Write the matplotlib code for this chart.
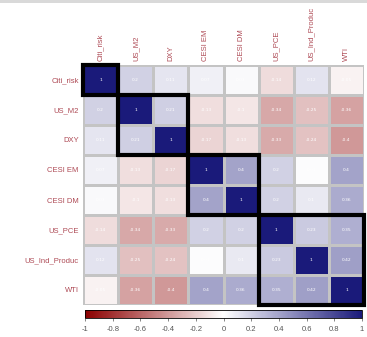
import numpy as np
import matplotlib
matplotlib.use("Agg")
import matplotlib.pyplot as plt
from matplotlib.colors import LinearSegmentedColormap, Normalize
from matplotlib.patches import Rectangle
import matplotlib.colorbar as mcolorbar

labels = ["Citi_risk", "US_M2", "DXY", "CESI EM", "CESI DM", "US_PCE", "US_Ind_Produc", "WTI"]
row_citi = [1, 0.2, 0.11, 0.07, 0.03, -0.14, 0.12, -0.05]
row_m2 = [0.2, 1, 0.21, -0.13, -0.1, -0.34, -0.25, -0.36]
row_dxy = [0.11, 0.21, 1, -0.17, -0.13, -0.33, -0.24, -0.4]
row_cem = [0.07, -0.13, -0.17, 1, 0.4, 0.2, 0.01, 0.4]
row_cdm = [0.03, -0.1, -0.13, 0.4, 1, 0.2, 0.1, 0.36]
row_pce = [-0.14, -0.34, -0.33, 0.2, 0.2, 1, 0.23, 0.35]
row_ind = [0.12, -0.25, -0.24, 0.01, 0.1, 0.23, 1, 0.42]
row_wti = [-0.05, -0.36, -0.4, 0.4, 0.36, 0.35, 0.42, 1]
clusters = [(0, 1), (1, 2), (3, 2), (5, 3)]  # (start, size)
cbar_ticks = [-1, -0.8, -0.6, -0.4, -0.2, 0, 0.2, 0.4, 0.6, 0.8, 1]

M = np.array([row_citi, row_m2, row_dxy, row_cem, row_cdm, row_pce, row_ind, row_wti])
n = len(labels)

cmap = LinearSegmentedColormap.from_list("rwb", ["#8B0000", "#FFFFFF", "#1A1A7A"])
norm = Normalize(-1, 1)
lab_color = "#AE4A55"

fig = plt.figure(figsize=(3.67, 3.37), dpi=100)
fig.patches.append(Rectangle((0, 1 - 3 / 337), 1, 3 / 337, transform=fig.transFigure,
                             facecolor="#D9D9D9", edgecolor="none", zorder=0))

ax = fig.add_axes([83 / 367, 1 - 305 / 337, 281 / 367, 240 / 337])
ax.pcolormesh(np.arange(n + 1), np.arange(n + 1), M, cmap=cmap, norm=norm,
              edgecolors="#C4C4C4", linewidth=1.0)
ax.set_xlim(0, n)
ax.set_ylim(n, 0)
for i in range(n):
    for j in range(n):
        v = M[i, j]
        s = "1" if v == 1 else ("%g" % v)
        ax.text(j + 0.5, i + 0.5, s, ha="center", va="center", color="white", fontsize=3.2)

for start, size in clusters:
    ax.add_patch(Rectangle((start, start), size, size, fill=False, edgecolor="black",
                           linewidth=3.0, zorder=5, clip_on=False))

ax.xaxis.tick_top()
ax.set_xticks(np.arange(n) + 0.5)
ax.set_xticklabels(labels, rotation=90, fontsize=5.5, color=lab_color, family="Liberation Sans")
ax.set_yticks(np.arange(n) + 0.5)
ax.set_yticklabels(labels, fontsize=5.5, color=lab_color, family="Liberation Sans")
ax.tick_params(length=0, pad=3)
for sp in ax.spines.values():
    sp.set_visible(False)

cax = fig.add_axes([85 / 367, 1 - 318 / 337, 277 / 367, 8 / 337])
cb = mcolorbar.ColorbarBase(cax, cmap=cmap, norm=norm, orientation="horizontal")
cb.set_ticks(cbar_ticks)
cb.set_ticklabels(["%g" % t for t in cbar_ticks])
cb.outline.set_linewidth(0.6)
cax.tick_params(labelsize=5.5, length=2, width=0.5, colors="#555555", pad=4)
for t in cax.get_xticklabels():
    t.set_family("Liberation Sans")

fig.savefig("out.png", dpi=100)
